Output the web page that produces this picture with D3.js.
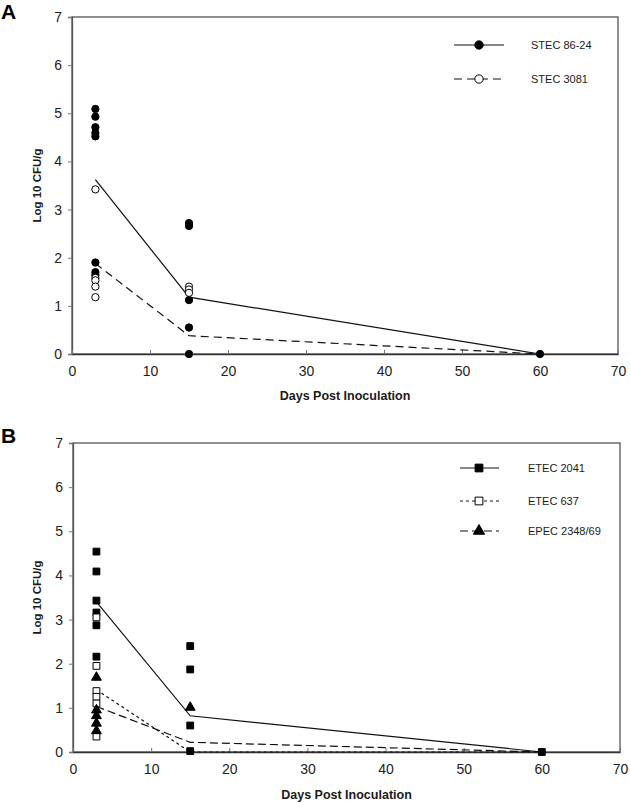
<!DOCTYPE html>
<html>
<head>
<meta charset="utf-8">
<script src="https://cdn.jsdelivr.net/npm/d3@7"></script>
<style>
  body { margin: 0; background: #fff; }
  text { font-family: "Liberation Sans", Arial, sans-serif; fill: #1a1a1a; }
</style>
</head>
<body>
<div id="chart"></div>
<script>
// ---- data ----
const meanDays = [3, 15, 60]
const xTicks = [0, 10, 20, 30, 40, 50, 60, 70]
const yTicks = [0, 1, 2, 3, 4, 5, 6, 7]

// panel A
const stec8624Days = [3, 3, 3, 3, 3, 3, 3, 3, 15, 15, 15, 15, 15, 60]
const stec8624Vals = [5.09, 4.93, 4.71, 4.59, 4.52, 1.90, 1.70, 1.64, 2.72, 2.66, 1.12, 0.55, 0, 0]
const stec8624Mean = [3.62, 1.18, 0]
const stec3081Days = [3, 3, 3, 3, 3, 15, 15, 15]
const stec3081Vals = [3.42, 1.58, 1.53, 1.40, 1.18, 1.40, 1.34, 1.27]
const stec3081Mean = [1.88, 0.38, 0]

// panel B
const etec2041Days = [3, 3, 3, 3, 3, 3, 15, 15, 15, 15, 60]
const etec2041Vals = [4.54, 4.09, 3.43, 3.16, 2.87, 2.16, 2.40, 1.87, 0.60, 0.02, 0]
const etec2041Mean = [3.40, 0.82, 0]
const etec637Days = [3, 3, 3, 3, 3, 3]
const etec637Vals = [3.05, 1.95, 1.38, 1.25, 1.10, 0.35]
const etec637Mean = [1.41, 0, 0]
const epecDays = [3, 3, 3, 3, 3, 15]
const epecVals = [1.69, 0.95, 0.82, 0.65, 0.48, 1.01]
const epecMean = [1.03, 0.22, 0]

let width = 630
let height = 803

let svg = d3.select("#chart")
  .append("svg")
  .attr("width", width)
  .attr("height", height)

function drawPanel(p) {
  let x = d3.scaleLinear().domain([0, 70]).range([p.left, p.right])
  let y = d3.scaleLinear().domain([0, 7]).range([p.bottom, p.top])
  let g = svg.append("g")

  // panel letter
  g.append("text")
    .attr("x", 1)
    .attr("y", p.letterY)
    .style("font-size", "21px")
    .style("font-weight", "bold")
    .style("fill", "#000")
    .text(p.letter)

  // frame
  g.append("rect")
    .attr("x", p.left).attr("y", p.top)
    .attr("width", p.right - p.left).attr("height", p.bottom - p.top)
    .attr("fill", "none")
    .attr("stroke", "#555")
    .attr("stroke-width", 1.3)

  // y axis (ticks outward)
  let yAxis = g.append("g")
    .attr("transform", `translate(${p.left},0)`)
    .call(d3.axisLeft(y).tickValues(yTicks).tickSize(4).tickPadding(6).tickFormat(d3.format("d")))
  yAxis.select(".domain").attr("stroke", "#555").attr("stroke-width", 1.3)
  yAxis.selectAll(".tick line").attr("stroke", "#777")
  yAxis.selectAll("text").style("font-size", "14px").style("fill", "#222").style("font-family", "Liberation Sans, Arial, sans-serif")

  // x axis (ticks inward)
  let xAxis = g.append("g")
    .attr("transform", `translate(0,${p.bottom})`)
    .call(d3.axisBottom(x).tickValues(xTicks).tickSizeInner(-4).tickSizeOuter(0).tickPadding(12).tickFormat(d3.format("d")))
  xAxis.select(".domain").attr("stroke", "#333").attr("stroke-width", 1.6)
  xAxis.selectAll(".tick line").attr("stroke", "#777")
  xAxis.selectAll("text").style("font-size", "14px").style("fill", "#222").style("font-family", "Liberation Sans, Arial, sans-serif")

  // axis titles
  g.append("text")
    .attr("x", (p.left + p.right) / 2)
    .attr("y", p.xTitleY)
    .attr("text-anchor", "middle")
    .style("font-size", "12.5px")
    .style("font-weight", "bold")
    .text("Days Post Inoculation")

  g.append("text")
    .attr("transform", `translate(41,${(p.top + p.bottom) / 2}) rotate(-90)`)
    .attr("text-anchor", "middle")
    .style("font-size", "11.5px")
    .style("font-weight", "bold")
    .text("Log 10 CFU/g")

  let line = d3.line().x((d, i) => x(meanDays[i])).y(d => y(d))

  p.series.forEach(s => {
    // mean line
    g.append("path")
      .datum(s.mean)
      .attr("d", line)
      .attr("fill", "none")
      .attr("stroke", "#111")
      .attr("stroke-width", 1.2)
      .attr("stroke-dasharray", s.dash)
  })

  p.series.forEach(s => {
    // individual points
    g.selectAll(null)
      .data(s.vals.map((v, i) => [s.days[i], v]))
      .enter()
      .append("path")
      .attr("d", d3.symbol().type(s.symbol).size(s.size))
      .attr("transform", d => `translate(${x(d[0])},${y(d[1])})`)
      .attr("fill", s.open ? "#fff" : "#000")
      .attr("stroke", "#000")
      .attr("stroke-width", 1)
  })

  // legend
  p.series.forEach((s, i) => {
    let ly = p.legendY[i]
    g.append("line")
      .attr("x1", p.legendX1).attr("x2", p.legendX2)
      .attr("y1", ly).attr("y2", ly)
      .attr("stroke", "#111")
      .attr("stroke-width", 1.2)
      .attr("stroke-dasharray", s.dash)
    g.append("path")
      .attr("d", d3.symbol().type(s.symbol).size(s.size * 1.3))
      .attr("transform", `translate(479,${ly})`)
      .attr("fill", s.open ? "#fff" : "#000")
      .attr("stroke", "#000")
    g.append("text")
      .attr("x", p.legendTextX)
      .attr("y", ly + 4)
      .style("font-size", "11px")
      .text(s.name)
  })
}

drawPanel({
  letter: "A", letterY: 19,
  left: 72, right: 618, top: 17, bottom: 354,
  xTitleY: 400,
  legendX1: 454, legendX2: 504, legendTextX: 531, legendY: [45, 79],
  series: [
    { name: "STEC 86-24", days: stec8624Days, vals: stec8624Vals, mean: stec8624Mean,
      symbol: d3.symbolCircle, size: 42, open: false, dash: null },
    { name: "STEC 3081", days: stec3081Days, vals: stec3081Vals, mean: stec3081Mean,
      symbol: d3.symbolCircle, size: 42, open: true, dash: "8,5" }
  ]
})

drawPanel({
  letter: "B", letterY: 443,
  left: 73, right: 620, top: 443, bottom: 752,
  xTitleY: 799,
  legendX1: 460, legendX2: 499, legendTextX: 528, legendY: [468, 501, 531],
  series: [
    { name: "ETEC 2041", days: etec2041Days, vals: etec2041Vals, mean: etec2041Mean,
      symbol: d3.symbolSquare, size: 46, open: false, dash: null },
    { name: "ETEC 637", days: etec637Days, vals: etec637Vals, mean: etec637Mean,
      symbol: d3.symbolSquare, size: 46, open: true, dash: "3,3" },
    { name: "EPEC 2348/69", days: epecDays, vals: epecVals, mean: epecMean,
      symbol: d3.symbolTriangle, size: 42, open: false, dash: "8,4" }
  ]
})
</script>
</body>
</html>
